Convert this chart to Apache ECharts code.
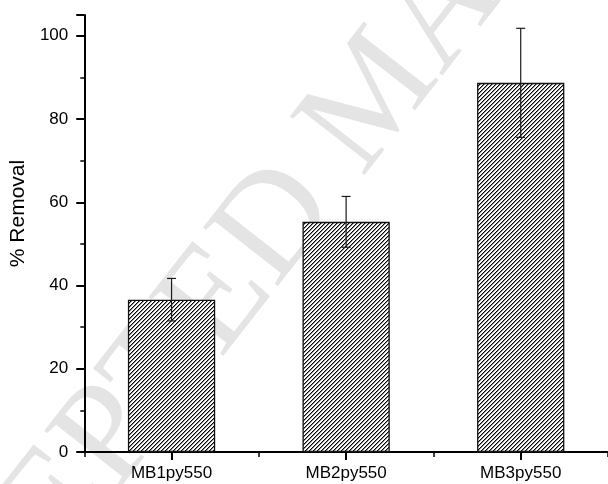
<!DOCTYPE html>
<html>
<head>
<meta charset="utf-8">
<script src="https://cdn.jsdelivr.net/npm/echarts@6/dist/echarts.min.js"></script>
<style>
  html, body { margin: 0; padding: 0; background: #fff; }
  #chart { width: 608px; height: 484px; }
</style>
</head>
<body>
<div id="chart"></div>
<script>
// Sample labels and mean removal (%) with their error half-widths
const categories = ['MB1py550', 'MB2py550', 'MB3py550'];
const removal = [36.6, 55.3, 88.7];
const removalErr = [5.1, 6.1, 13.1];
const yTicks = [0, 20, 40, 60, 80, 100];

// Diagonal "////" hatch tile used as the bar fill
function hatchTile() {
  const c = document.createElement('canvas');
  c.width = 4; c.height = 4;
  const g = c.getContext('2d');
  g.fillStyle = '#ffffff';
  g.fillRect(0, 0, 4, 4);
  for (let y = 0; y < 4; y++) {
    g.fillStyle = '#000000';
    g.fillRect(3 - y, y, 1, 1);
    g.fillStyle = '#8a8a8a';
    g.fillRect((4 - y) % 4, y, 1, 1);
  }
  return c;
}

const errData = categories.map((c, i) => [i, removal[i] - removalErr[i], removal[i] + removalErr[i]]);

const chart = echarts.init(document.getElementById('chart'), null, { renderer: 'canvas' });
const font = '"Liberation Sans", Arial, sans-serif';

chart.setOption({
  animation: false,
  backgroundColor: '#ffffff',
  graphic: [{
    type: 'text',
    z: -10,
    x: 378,
    y: 96,
    rotation: 52 * Math.PI / 180,
    silent: true,
    style: {
      text: 'ACCEPTED MANUSCRIPT',
      font: '145px "Liberation Serif", "Times New Roman", serif',
      fill: '#e4e4e4',
      textAlign: 'center',
      textVerticalAlign: 'middle'
    }
  }],
  grid: { left: 79, top: 15, width: 534, height: 437, containLabel: false },
  xAxis: [{
    type: 'category',
    data: categories,
    boundaryGap: true,
    axisLine: { show: true, lineStyle: { color: '#000', width: 2 } },
    axisTick: { show: true, alignWithLabel: true, length: 8, lineStyle: { color: '#000', width: 2 } },
    axisLabel: { color: '#000', fontSize: 17, fontFamily: font, margin: 13 },
    splitLine: { show: false }
  }, {
    type: 'category',
    data: categories,
    position: 'bottom',
    boundaryGap: true,
    axisLine: { show: false },
    axisTick: { show: true, alignWithLabel: false, length: 5, lineStyle: { color: '#000', width: 1.5 } },
    axisLabel: { show: false },
    splitLine: { show: false }
  }],
  yAxis: {
    type: 'value',
    min: 0,
    max: 105,
    interval: 20,
    name: '% Removal',
    nameLocation: 'middle',
    nameGap: 47,
    nameTextStyle: { color: '#000', fontSize: 21, fontFamily: font, padding: [0, 0, 0, 40] },
    axisLine: { show: true, lineStyle: { color: '#000', width: 2 } },
    axisTick: { show: true, length: 8, lineStyle: { color: '#000', width: 2 } },
    minorTick: { show: true, splitNumber: 2, length: 4, lineStyle: { color: '#000', width: 1.5 } },
    axisLabel: {
      color: '#000', fontSize: 17, fontFamily: font, margin: 16,
      formatter: v => (yTicks.indexOf(v) >= 0 ? String(v) : '')
    },
    splitLine: { show: false },
    minorSplitLine: { show: false }
  },
  series: [{
    type: 'bar',
    data: removal,
    barWidth: '50%',
    itemStyle: {
      color: { image: hatchTile(), repeat: 'repeat' },
      borderColor: '#111',
      borderWidth: 1.3
    },
    z: 2
  }, {
    type: 'custom',
    data: errData,
    z: 5,
    renderItem: function (params, api) {
      const i = api.value(0);
      const lo = api.coord([i, api.value(1)]);
      const hi = api.coord([i, api.value(2)]);
      const half = 4.5;
      const st = { stroke: '#1a1a1a', lineWidth: 1.2 };
      return {
        type: 'group',
        children: [
          { type: 'line', shape: { x1: hi[0], y1: hi[1], x2: lo[0], y2: lo[1] }, style: st },
          { type: 'line', shape: { x1: hi[0] - half, y1: hi[1], x2: hi[0] + half, y2: hi[1] }, style: st },
          { type: 'line', shape: { x1: lo[0] - half, y1: lo[1], x2: lo[0] + half, y2: lo[1] }, style: st }
        ]
      };
    }
  }]
});
</script>
</body>
</html>
